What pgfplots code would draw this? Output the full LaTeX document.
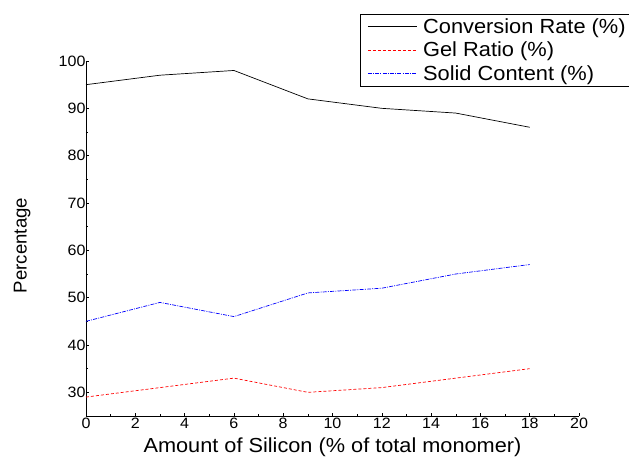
\documentclass[border=0pt]{standalone}
\usepackage{fontspec}
\setmainfont[FakeStretch=1.07]{Liberation Sans}
\newfontfamily\plainsans{Liberation Sans}
\usepackage{pgfplots}
\pgfplotsset{compat=1.18}
\begin{document}
\begin{tikzpicture}[x=1bp,y=1bp]
\useasboundingbox (-86bp,-41bp) rectangle (543bp,416bp);
\begin{axis}[
  at={(0,0)}, anchor=south west,
  scale only axis, width=493bp, height=355bp,
  xmin=0, xmax=20, ymin=25, ymax=100,
  axis lines=left,
  axis line style={-, line width=0.9pt},
  xtick={0,2,...,20}, ytick={30,40,...,100},
  minor x tick num=1, minor y tick num=1,
  tick align=inside,
  major tick length=3bp, minor tick length=2bp,
  tick style={black, line width=0.5pt},
  font=\fontsize{15bp}{17bp}\selectfont,
  /pgf/number format/assume math mode=true,
  xticklabel style={yshift=1bp},
  yticklabel style={xshift=3bp},
  xlabel={Amount of Silicon (\% of total monomer)},
  ylabel={Percentage},
  every axis x label/.style={at={(axis description cs:0.5,0)}, anchor=base, yshift=-36.5bp,
     font=\fontsize{20.3bp}{22bp}\selectfont},
  every axis y label/.style={at={(axis description cs:-0.1203,0.4803)}, anchor=base, rotate=90,
     font=\plainsans\fontsize{18.6bp}{20bp}\selectfont},
  legend style={at={(0.5558,1.1338)}, anchor=north west, draw=black, line width=0.8pt,
    font=\fontsize{20.4bp}{22bp}\selectfont, inner xsep=7bp, inner ysep=2.5bp, row sep=3.5bp,
    column sep=5bp,
    nodes={text height=16bp, text depth=2bp, inner sep=1bp},
    cells={anchor=west}},
  legend image code/.code={\draw[#1, line width=0.7pt] (0bp,0bp) -- (49bp,0bp);},
  clip=false,
]
\addplot[black, line width=0.7pt] coordinates {(0,95) (3,97) (6,98) (9,92) (12,90) (15,89) (18,86)};
\addlegendentry{Conversion Rate (\%)}
\addplot[red, line width=0.7pt, dash pattern=on 3bp off 2bp] coordinates {(0,29) (3,31) (6,33) (9,30) (12,31) (15,33) (18,35)};
\addlegendentry{Gel Ratio (\%)}
\addplot[blue, line width=0.7pt, dash pattern=on 4bp off 1.2bp on 1bp off 1.2bp] coordinates {(0,45) (3,49) (6,46) (9,51) (12,52) (15,55) (18,57)};
\addlegendentry{Solid Content (\%)}
\end{axis}
\end{tikzpicture}
\end{document}
